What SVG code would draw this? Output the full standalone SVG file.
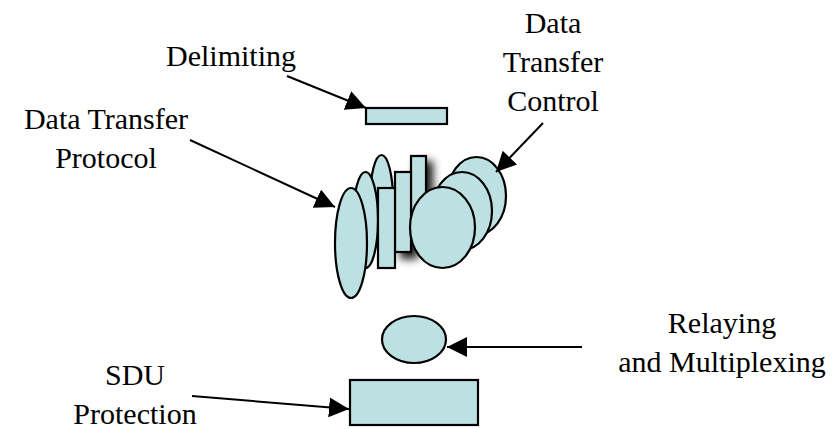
<svg xmlns="http://www.w3.org/2000/svg" width="836" height="429" viewBox="0 0 836 429">
<style>
.s{fill:#BDE0E3;stroke:#000;stroke-width:2.2}
.t{font-family:"Liberation Serif","Times New Roman",serif;font-size:30px;fill:#000;text-anchor:middle}
.c{stroke:#000;stroke-width:2;fill:none;marker-end:url(#ah)}
</style>
<defs>
<marker id="ah" markerUnits="userSpaceOnUse" markerWidth="22" markerHeight="22" refX="20" refY="10" orient="auto" viewBox="0 0 22 22">
<path d="M0,0 L20,10 L0,20 Z" fill="#000"/>
</marker>
<filter id="sh" x="-50%" y="-20%" width="200%" height="150%">
<feGaussianBlur in="SourceAlpha" stdDeviation="4"/>
<feOffset dx="6" dy="6" result="b"/>
<feComponentTransfer><feFuncA type="linear" slope="0.9"/></feComponentTransfer>
<feMerge><feMergeNode/><feMergeNode in="SourceGraphic"/></feMerge>
</filter>
</defs>
<g id="delimiting">
<rect class="s" x="366" y="108" width="81" height="16"/>
</g>
<g id="dtp-dtc">
<g filter="url(#sh)">
<rect class="s" x="411" y="156" width="15" height="80"/>
<rect class="s" x="395" y="172" width="16" height="80"/>
</g>
<ellipse class="s" cx="381.5" cy="200" rx="11.5" ry="45"/>
<ellipse class="s" cx="365.5" cy="220" rx="12.5" ry="48"/>
<ellipse class="s" cx="351" cy="243" rx="16" ry="55"/>
<rect class="s" x="378" y="188" width="17" height="80"/>
<ellipse class="s" cx="476.5" cy="196" rx="29.5" ry="39"/>
<ellipse class="s" cx="462" cy="211" rx="30" ry="39"/>
<ellipse class="s" cx="442.5" cy="227.5" rx="32.5" ry="40.5"/>
</g>
<g id="relaying">
<ellipse class="s" cx="414" cy="339.5" rx="32" ry="23.5"/>
</g>
<g id="sdu">
<rect class="s" x="350" y="380" width="128" height="45"/>
</g>
<g id="labels">
<text class="t" x="231" y="66">Delimiting</text>
<text class="t" x="106" y="129">Data Transfer</text>
<text class="t" x="106" y="168">Protocol</text>
<text class="t" x="553" y="33">Data</text>
<text class="t" x="553" y="72">Transfer</text>
<text class="t" x="553" y="111">Control</text>
<text class="t" x="722" y="333">Relaying</text>
<text class="t" x="722" y="372">and Multiplexing</text>
<text class="t" x="135" y="385">SDU</text>
<text class="t" x="135" y="424">Protection</text>
</g>
<g id="connectors">
<line class="c" x1="287" y1="76" x2="366" y2="108"/>
<line class="c" x1="190" y1="140" x2="335" y2="207"/>
<line class="c" x1="543" y1="123" x2="496" y2="172"/>
<line class="c" x1="582" y1="347" x2="447" y2="347"/>
<line class="c" x1="192" y1="396" x2="349" y2="409"/>
</g>
</svg>
